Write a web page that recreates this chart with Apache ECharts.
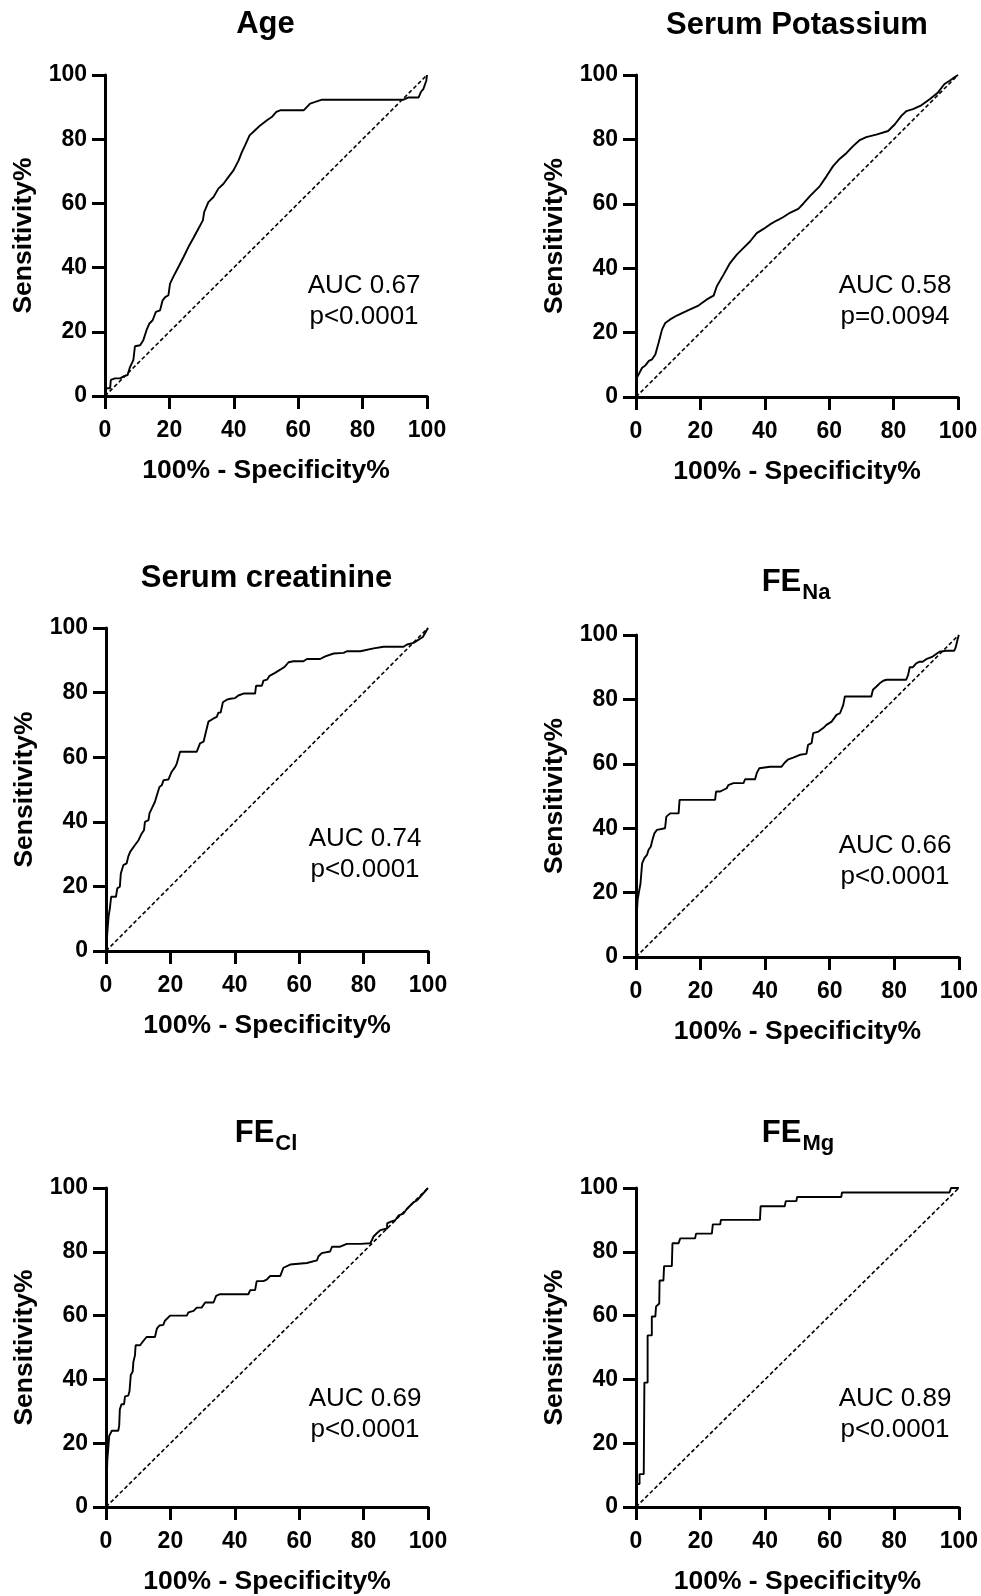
<!DOCTYPE html>
<html>
<head>
<meta charset="utf-8">
<script src="https://cdn.jsdelivr.net/npm/echarts@6/dist/echarts.min.js"></script>
<style>
html,body{margin:0;padding:0;background:#fff;}
#chart{width:981px;height:1596px;}
</style>
</head>
<body>
<div id="chart"></div>
<script>
// ---------- DATA ----------
const panelTitles = [['Age', ''], ['Serum Potassium', ''], ['Serum creatinine', ''], ['FE', 'Na'], ['FE', 'Cl'], ['FE', 'Mg']];
const aucLabels = ['AUC 0.67', 'AUC 0.58', 'AUC 0.74', 'AUC 0.66', 'AUC 0.69', 'AUC 0.89'];
const pLabels = ['p<0.0001', 'p=0.0094', 'p<0.0001', 'p<0.0001', 'p<0.0001', 'p<0.0001'];
const xAxisTitle = '100% - Specificity%';
const yAxisTitle = 'Sensitivity%';
const tickValues = [0, 20, 40, 60, 80, 100];
const diagonal = [[0, 0], [100, 100]];

const ageRoc = [[0,0],[0.3,2.4],[1.6,2.4],[1.8,5.0],[3.1,5.5],[4.7,5.5],[5.9,6.2],[7.0,6.5],[7.8,9.1],[8.8,11.2],
  [9.3,15.5],[10.9,15.8],[11.9,17.4],[12.9,20.5],[13.8,22.6],[14.8,23.6],[15.8,26.2],[17.1,26.7],[17.9,29.8],[18.7,30.8],
  [19.7,31.4],[20.2,35.0],[21.2,37.1],[22.8,40.2],[24.4,43.3],[25.9,46.4],[27.5,49.3],[29.0,52.1],[30.4,54.7],[30.8,57.3],
  [32.1,60.4],[33.7,62.0],[35.2,64.6],[36.8,66.1],[38.3,68.2],[39.9,70.3],[41.5,73.4],[42.5,76.0],[43.5,78.1],[44.9,81.2],
  [46.6,82.8],[48.2,84.3],[50.3,85.9],[51.8,86.9],[53.2,88.5],[54.4,89.0],[61.7,89.0],[63.7,91.1],[65.3,91.6],[67.4,92.3],
  [92.7,92.3],[94.3,93.0],[97.4,93.0],[98.1,94.7],[98.9,95.7],[99.8,98.3],[100,100]];

const potassiumRoc = [[0,0],[0.3,6.0],[1.9,9.1],[2.9,9.8],[4.0,11.2],[5.0,11.7],[6.0,13.2],[7.0,16.8],[8.1,21.0],[9.1,23.0],
  [10.6,24.1],[12.7,25.3],[14.8,26.3],[16.8,27.2],[19.4,28.4],[22.0,30.3],[24.1,31.5],[25.1,34.4],[27.2,38.0],[29.2,41.6],
  [31.3,44.2],[33.4,46.3],[35.4,48.3],[37.5,50.9],[39.6,52.2],[41.6,53.6],[43.7,54.8],[45.8,55.9],[47.8,57.2],[50.4,58.4],
  [52.0,60.1],[54.0,62.4],[57.1,65.5],[59.2,68.6],[61.2,71.7],[63.3,74.0],[65.4,75.8],[67.4,77.9],[69.5,79.8],[71.5,80.7],
  [74.6,81.5],[78.3,82.6],[80.4,84.7],[82.4,87.3],[84.0,88.8],[86.0,89.4],[88.6,90.6],[91.2,92.5],[93.8,94.6],[95.8,97.2],
  [97.4,98.2],[98.9,99.3],[100,100]];

const creatinineRoc = [[0,0],[0.4,5.5],[0.8,10.7],[1.2,13.2],[1.6,16.8],[3.1,16.8],[3.5,19.4],[4.3,19.9],[4.6,24.0],[5.4,26.6],
  [6.4,27.1],[6.9,29.2],[7.5,30.7],[8.0,31.2],[9.0,32.8],[10.1,34.3],[11.1,36.4],[11.8,37.4],[12.1,40.0],[13.2,40.5],
  [13.5,42.6],[14.2,44.1],[15.2,46.2],[15.8,48.2],[16.6,50.8],[17.3,51.3],[17.9,52.9],[19.4,53.1],[20.4,55.5],[21.5,57.0],
  [22.0,58.1],[23.0,61.7],[28.2,61.7],[29.2,64.3],[30.3,64.8],[30.8,66.9],[31.8,71.0],[33.4,72.0],[34.4,72.5],[34.9,73.8],
  [35.6,73.8],[36.3,77.0],[37.5,77.8],[38.6,78.1],[40.1,78.3],[41.1,79.1],[42.7,79.7],[46.3,79.7],[46.6,82.1],[48.4,82.1],
  [48.9,83.7],[50.0,84.0],[50.8,85.2],[52.5,86.1],[54.1,87.1],[55.6,88.1],[56.7,89.4],[58.2,89.7],[61.3,89.7],[62.4,90.4],
  [66.5,90.4],[68.1,91.2],[70.7,92.1],[73.8,92.3],[74.8,92.8],[79.0,92.8],[83.1,93.7],[86.2,94.2],[92.4,94.2],[93.5,94.9],
  [95.5,95.4],[97.1,96.4],[98.4,97.2],[100,100]];

const feNaRoc = [[0,0],[0.3,14.2],[0.5,17.8],[1.0,17.8],[1.4,22.9],[1.9,29.1],[2.6,30.7],[3.4,31.7],[3.9,33.3],[4.6,34.3],
  [5.1,36.4],[5.7,38.4],[6.5,39.5],[7.0,40.0],[9.0,40.0],[9.4,43.6],[10.6,44.6],[13.2,44.6],[13.5,48.8],[24.5,48.8],
  [24.8,51.4],[26.1,51.4],[28.1,52.4],[28.6,53.4],[30.2,54.0],[33.3,54.0],[33.8,55.2],[36.9,55.2],[37.4,57.1],[38.2,58.6],
  [41.5,59.1],[45.1,59.1],[46.1,60.4],[47.2,61.4],[48.7,61.9],[50.8,62.8],[52.8,63.1],[53.3,65.9],[54.4,66.4],[54.9,69.5],
  [56.5,70.0],[58.0,71.1],[59.0,72.1],[60.6,73.1],[62.1,75.2],[63.2,75.7],[64.2,78.3],[64.7,80.9],[72.9,80.9],[73.4,83.0],
  [74.5,84.0],[75.5,85.0],[76.6,85.8],[77.6,86.1],[83.7,86.1],[84.3,87.6],[84.8,90.0],[85.8,90.0],[86.8,91.2],[87.9,91.7],
  [88.8,91.7],[89.9,92.5],[91.9,93.3],[94.0,94.8],[96.0,95.1],[98.6,95.1],[99.1,96.4],[99.6,98.5],[100,100]];

const feClRoc = [[0,0],[0.4,14.6],[0.7,14.6],[1.0,22.3],[1.8,23.9],[3.8,23.9],[4.1,25.5],[4.3,30.6],[4.8,32.2],[5.6,32.2],
  [5.9,34.7],[6.9,34.9],[7.3,36.3],[7.7,41.4],[8.3,42.5],[8.5,45.5],[9.0,47.6],[9.2,50.7],[10.6,50.7],[11.4,51.8],
  [12.6,53.3],[15.2,53.3],[15.8,55.9],[16.6,56.9],[17.8,57.1],[18.3,58.4],[19.9,60.0],[25.1,60.0],[25.6,61.0],[27.2,61.5],
  [28.2,62.5],[29.7,62.5],[30.8,64.1],[33.4,64.1],[34.2,66.2],[35.4,66.7],[44.2,66.7],[44.8,68.0],[46.3,68.0],[46.8,70.8],
  [48.9,70.8],[49.9,71.3],[51.0,72.4],[54.1,72.4],[55.1,75.0],[57.2,76.0],[62.4,76.5],[65.5,77.3],[66.0,78.6],[67.0,79.6],
  [69.6,80.1],[70.2,81.6],[72.7,81.6],[74.8,82.5],[79.0,82.5],[82.1,82.7],[82.6,83.7],[83.1,84.8],[84.1,85.8],[85.2,86.8],
  [87.3,87.3],[87.3,88.9],[88.3,89.4],[89.8,89.9],[90.9,91.4],[92.4,92.0],[93.5,93.5],[94.5,94.5],[95.6,95.6],[96.6,96.1],
  [100,100]];

const feMgRoc = [[0,0],[0.3,7.2],[1.1,7.2],[1.1,10.3],[2.4,10.3],[2.6,39.0],[3.6,39.0],[3.6,53.8],[4.9,53.8],[4.9,59.7],
  [6.0,59.7],[6.2,62.8],[7.2,63.8],[7.3,71.0],[8.5,71.0],[8.7,75.5],[11.1,75.5],[11.3,82.7],[13.2,82.7],[13.7,84.2],
  [18.3,84.2],[18.6,85.7],[23.5,85.7],[23.8,88.6],[26.1,88.6],[26.3,90.0],[38.4,90.0],[38.6,94.3],[46.1,94.3],[46.4,95.9],
  [49.7,95.9],[49.9,97.2],[63.6,97.2],[63.8,98.6],[97.1,98.6],[97.6,100],[100,100]];

const rocCurves = [ageRoc, potassiumRoc, creatinineRoc, feNaRoc, feClRoc, feMgRoc];

// ---------- LAYOUT ----------
const FONT = '"Liberation Sans", Arial, Helvetica, sans-serif';
const panels = [
  {left: 105, top: 75,   w: 322, h: 321, tx: 265.5, ty: 9},
  {left: 636, top: 75,   w: 322, h: 322, tx: 797,   ty: 10},
  {left: 106, top: 628,  w: 322, h: 323, tx: 266.5, ty: 563},
  {left: 636, top: 635,  w: 323, h: 322, tx: 796,   ty: 567},
  {left: 106, top: 1188, w: 322, h: 323, tx: 266,   ty: 1118},
  {left: 636, top: 1188, w: 323, h: 323, tx: 798,   ty: 1118}
];

const chart = echarts.init(document.getElementById('chart'), null, {renderer: 'canvas'});

const axisCommon = {
  type: 'value', min: tickValues[0], max: tickValues[tickValues.length - 1],
  interval: tickValues[1] - tickValues[0],
  nameLocation: 'middle',
  nameTextStyle: {fontSize: 26.5, fontWeight: 'bold', color: '#000', fontFamily: FONT},
  axisLine: {show: true, onZero: false, lineStyle: {color: '#000', width: 3}},
  axisTick: {show: true, length: 13, lineStyle: {color: '#000', width: 3}},
  axisLabel: {fontSize: 23, fontWeight: 'bold', color: '#000', fontFamily: FONT},
  splitLine: {show: false}
};

const option = {
  animation: false,
  backgroundColor: '#fff',
  title: panels.map((p, i) => ({
    text: panelTitles[i][1] ? '{m|' + panelTitles[i][0] + '}{s|' + panelTitles[i][1] + '}' : '{m|' + panelTitles[i][0] + '}',
    left: p.tx, top: p.ty, textAlign: 'center', padding: 0,
    textStyle: {
      fontFamily: FONT,
      rich: {
        m: {fontSize: 31, fontWeight: 'bold', color: '#000', fontFamily: FONT, lineHeight: 30, verticalAlign: 'top'},
        s: {fontSize: 22, fontWeight: 'bold', color: '#000', fontFamily: FONT, lineHeight: 22, verticalAlign: 'top', padding: [15, 0, 0, 1]}
      }
    }
  })),
  grid: panels.map(p => ({left: p.left, top: p.top, width: p.w, height: p.h, containLabel: false})),
  xAxis: panels.map((p, i) => Object.assign({}, axisCommon, {
    gridIndex: i, name: xAxisTitle, nameGap: 61,
    axisLabel: Object.assign({}, axisCommon.axisLabel, {margin: 23})
  })),
  yAxis: panels.map((p, i) => Object.assign({}, axisCommon, {
    gridIndex: i, name: yAxisTitle, nameGap: 68,
    axisLabel: Object.assign({}, axisCommon.axisLabel, {margin: 18})
  })),
  series: [].concat(...panels.map((p, i) => [
    {
      type: 'line', xAxisIndex: i, yAxisIndex: i, data: diagonal,
      symbol: 'none', silent: true, clip: false,
      lineStyle: {color: '#000', width: 1.6, type: [4, 2.5]}
    },
    {
      type: 'line', xAxisIndex: i, yAxisIndex: i, data: rocCurves[i],
      symbol: 'none', silent: true, clip: false,
      lineStyle: {color: '#000', width: 1.9}
    }
  ])),
  graphic: panels.map((p, i) => ({
    type: 'text', x: p.left + 259, y: p.top + 226, silent: true,
    style: {
      text: aucLabels[i] + '\n' + pLabels[i],
      fill: '#000', fontSize: 26, fontFamily: FONT,
      align: 'center', verticalAlign: 'middle', lineHeight: 31
    }
  }))
};

chart.setOption(option);
</script>
</body>
</html>
